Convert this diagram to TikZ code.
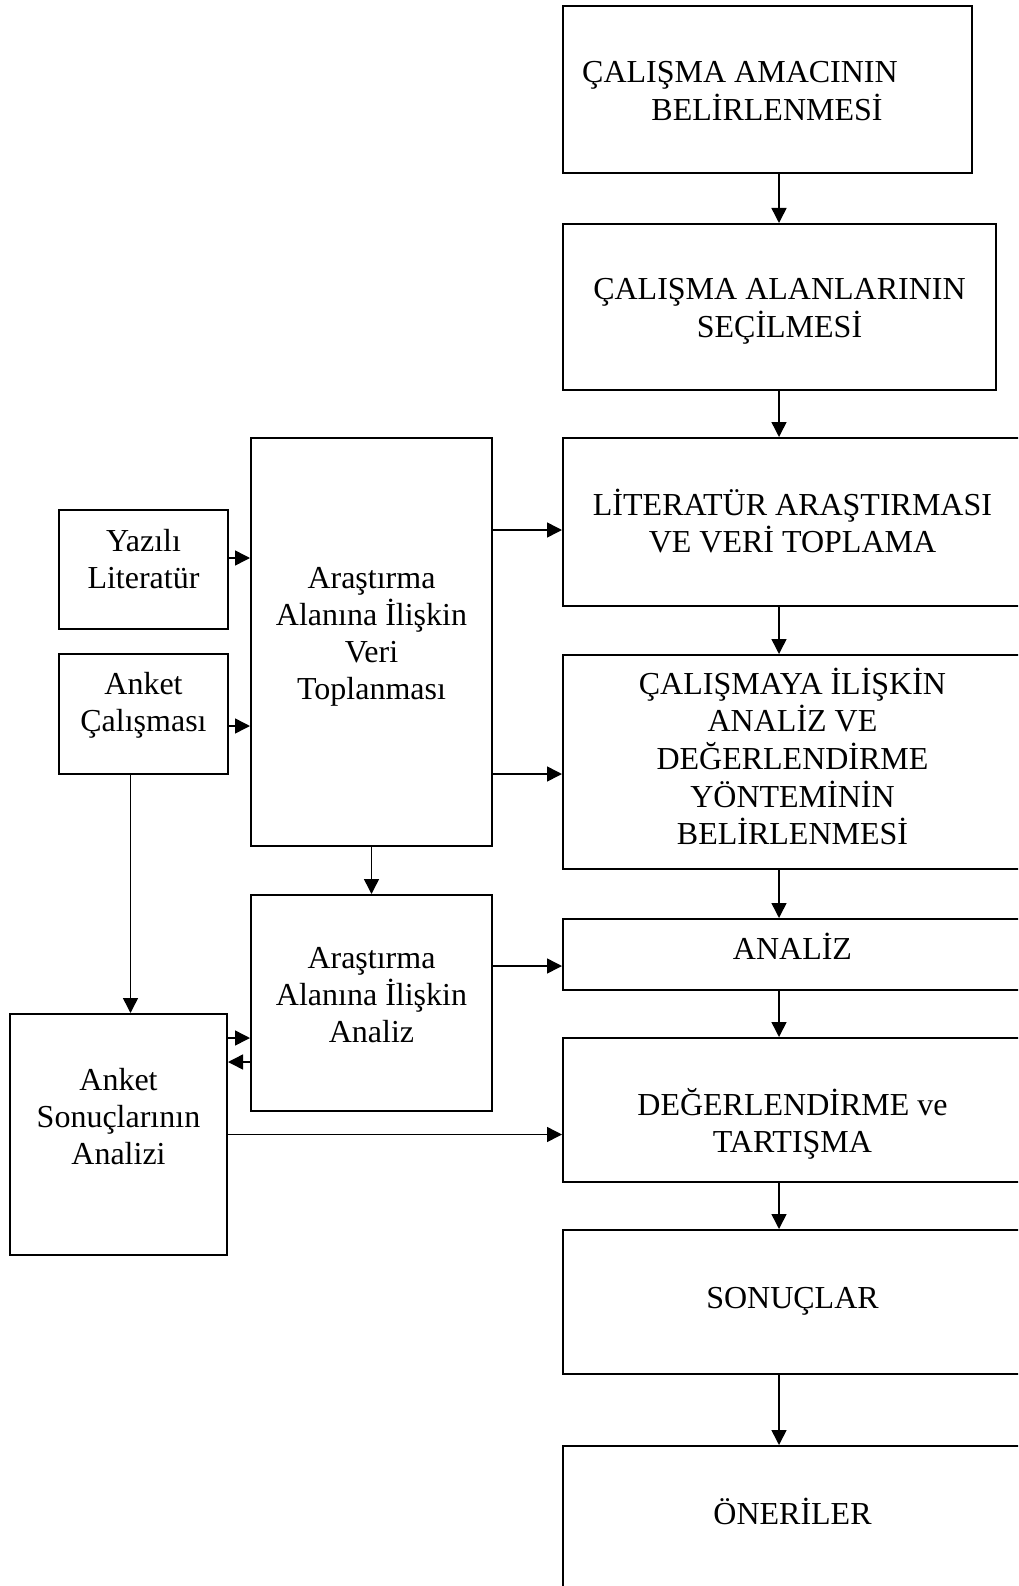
\documentclass[tikz,border=0pt]{standalone}
\usepackage{fontspec}
\setmainfont{Liberation Serif}
\usetikzlibrary{arrows.meta,positioning,calc}

\newcommand{\lines}[1]{\begin{tabular}[t]{@{}c@{}}#1\end{tabular}}

\begin{document}
\begin{tikzpicture}[x=1pt, y=-1pt,
    >={Triangle[length=15pt,width=15pt]},
    every node/.style={font=\fontsize{32}{37}\selectfont},
    box/.style={draw, line width=2pt, inner sep=0pt, anchor=north},
    room/.style 2 args={text height=#1pt, text depth=#2pt},
    link/.style={->, line width=1.5pt}]
  \useasboundingbox (0,0) rectangle (1018,1586);
  \clip (0,0) rectangle (1018,1586);
  % main column
  \node[box, minimum width=409, room={77}{90}] (amac) at (767,5)
    {\lines{ÇALIŞMA AMACININ\hspace*{54pt}\\BELİRLENMESİ}};
  \node[box, minimum width=433, room={76}{90}] (secim) at (779.5,223)
    {\lines{ÇALIŞMA ALANLARININ\\SEÇİLMESİ}};
  \node[box, minimum width=459, room={77}{91}] (lit) at (792.5,437)
    {\lines{LİTERATÜR ARAŞTIRMASI\\VE VERİ TOPLAMA}};
  \node[box, minimum width=459, room={39}{175}] (yontem) at (792.5,654)
    {\lines{ÇALIŞMAYA İLİŞKİN\\ANALİZ VE\\DEĞERLENDİRME\\YÖNTEMİNİN\\BELİRLENMESİ}};
  \node[box, minimum width=459, room={40}{31}] (analiz) at (792.5,918) {ANALİZ};
  \node[box, minimum width=459, room={77}{67}] (degr) at (792.5,1037)
    {\lines{DEĞERLENDİRME ve\\TARTIŞMA}};
  \node[box, minimum width=459, room={78}{66}] (sonuc) at (792.5,1229) {SONUÇLAR};
  \node[box, minimum width=459, room={78}{77}] (oneri) at (792.5,1445) {ÖNERİLER};
  \coordinate (axis) at (779,0);
  \foreach \a/\b in {amac/secim, secim/lit, lit/yontem, yontem/analiz, analiz/degr, degr/sonuc, sonuc/oneri}
    \draw[link] (\a.south -| axis) -- (\b.north -| axis);

  % side column
  \node[box, minimum width=241, room={150}{258}] (veri) at (371.5,437)
    {\lines{Araştırma\\Alanına İlişkin\\Veri\\Toplanması}};
  \node[box, minimum width=169, room={41}{78}] (yazili) at (143.5,509)
    {\lines{Yazılı\\Literatür}};
  \node[box, minimum width=169, room={40}{80}] (anket) at (143.5,653)
    {\lines{Anket\\Çalışması}};
  \node[box, minimum width=241, room={73}{143}] (aanaliz) at (371.5,894)
    {\lines{Araştırma\\Alanına İlişkin\\Analiz}};
  \node[box, minimum width=217, room={76}{165}] (sonanaliz) at (118.5,1013)
    {\lines{Anket\\Sonuçlarının\\Analizi}};

  % links
  \draw[link] ([yshift=11.5pt]yazili.east) -- ([yshift=11.5pt]yazili.east -| veri.west);
  \draw[link] ([yshift=-12pt]anket.east) -- ([yshift=-12pt]anket.east -| veri.west);
  \draw[link] ([yshift=-8pt]lit.west -| veri.east) -- ([yshift=-8pt]lit.west);
  \draw[link] ([yshift=-12pt]yontem.west -| veri.east) -- ([yshift=-12pt]yontem.west);
  \draw[link] (veri.south) -- (aanaliz.north);
  \draw[link] ([yshift=-11.5pt]analiz.west -| aanaliz.east) -- ([yshift=-11.5pt]analiz.west);
  \draw[link] ([xshift=-13pt]anket.south) -- ([xshift=-13pt]anket.south |- sonanaliz.north);
  \draw[link] ([yshift=96.5pt]sonanaliz.east) -- ([yshift=96.5pt]sonanaliz.east -| aanaliz.west);
  \draw[link] ([yshift=72.5pt]sonanaliz.east -| aanaliz.west) -- ([yshift=72.5pt]sonanaliz.east);
  \draw[link] (sonanaliz.east) -- (sonanaliz.east -| degr.west);
\end{tikzpicture}
\end{document}
